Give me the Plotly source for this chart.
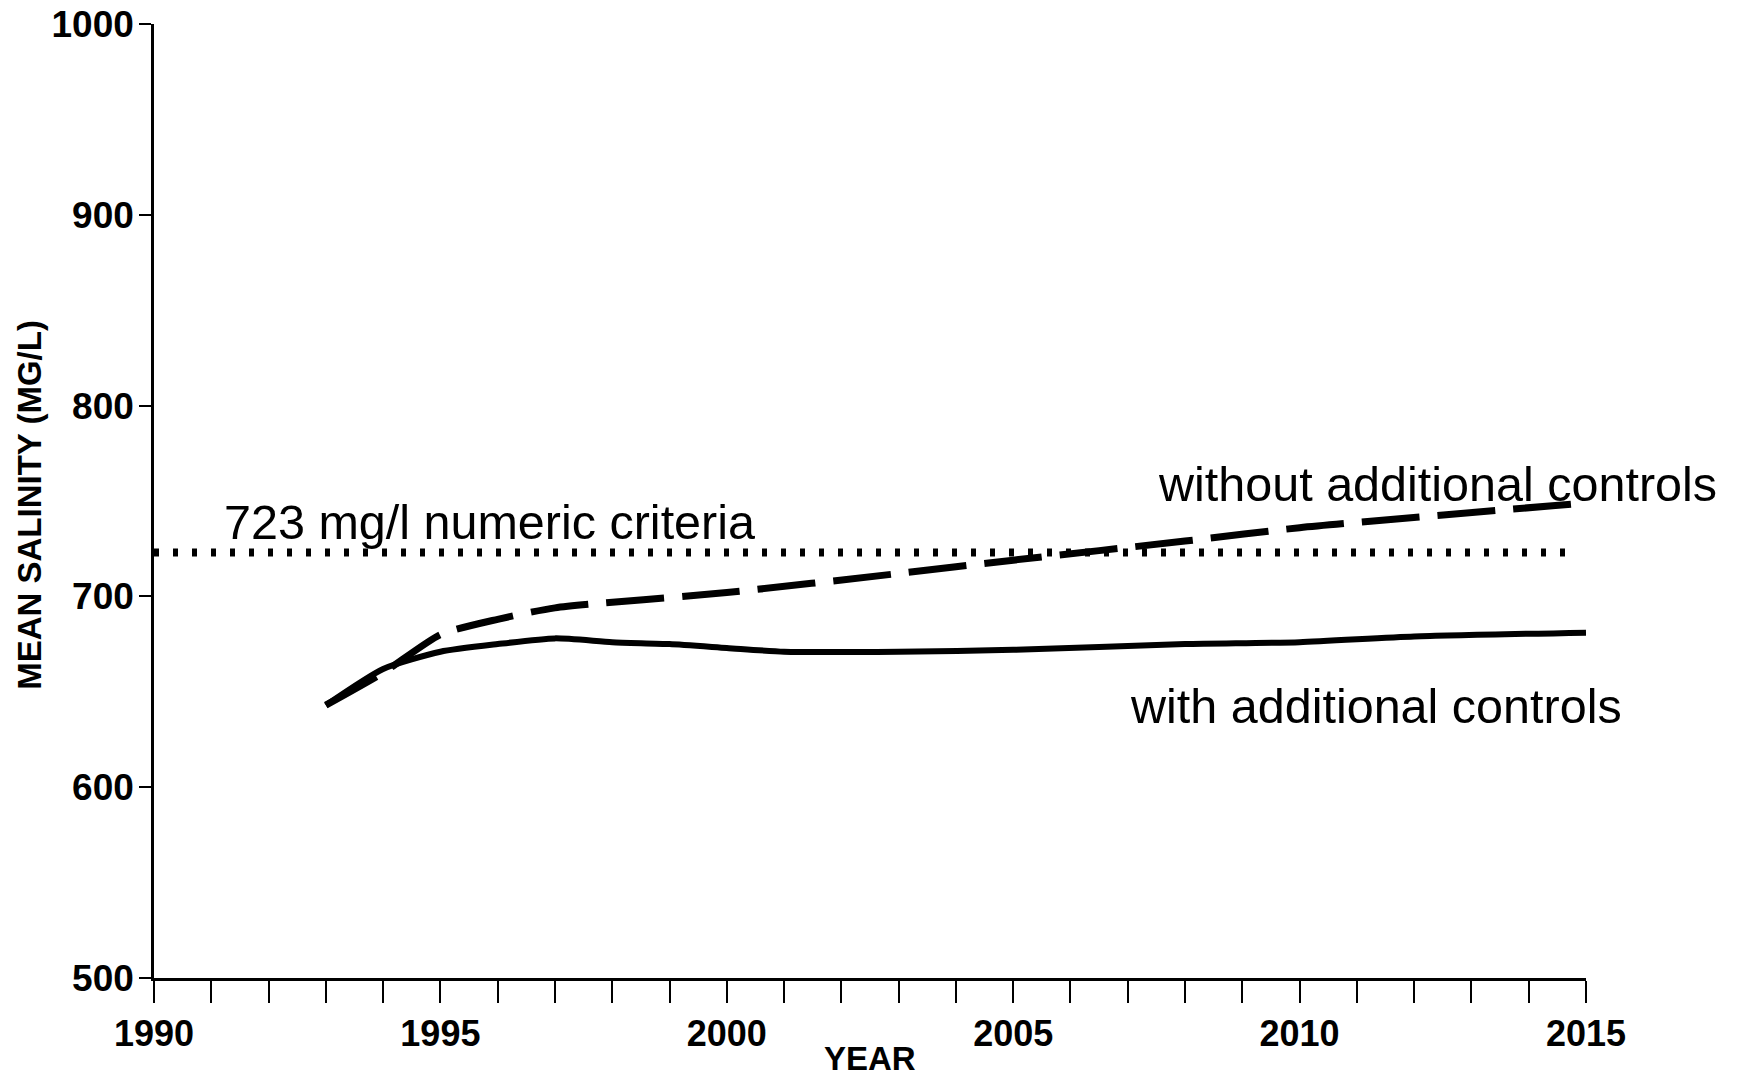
import plotly.graph_objects as go

# ---- data ----
years_with = [1993, 1994, 1995, 1996, 1997, 1998, 1999, 2000, 2001, 2003, 2005, 2008, 2010, 2012, 2015]
salinity_with = [643, 662, 671, 675, 678, 676, 675, 673, 671, 671, 672, 675, 676, 679, 681]

years_without = [1993, 1994, 1995, 1996, 1997, 2000, 2003, 2005, 2008, 2010, 2015]
salinity_without = [643, 660, 680, 688, 694, 702, 712, 719, 729, 736, 749]

criteria_years = [1990, 2014.8]
criteria_values = [723, 723]

label_criteria = "723 mg/l numeric criteria"
label_without = "without additional controls"
label_with = "with additional controls"

x_title = "YEAR"
y_title = "MEAN SALINITY (MG/L)"

BOLD = "Liberation Sans"

fig = go.Figure()

fig.add_trace(go.Scatter(
    x=criteria_years, y=criteria_values, mode="lines",
    line=dict(color="black", width=8, dash="5px,14px"),
    showlegend=False, hoverinfo="skip"))

fig.add_trace(go.Scatter(
    x=years_without, y=salinity_without, mode="lines",
    line=dict(color="black", width=7, dash="58px,18px", shape="spline", smoothing=0.6),
    showlegend=False))

fig.add_trace(go.Scatter(
    x=years_with, y=salinity_with, mode="lines",
    line=dict(color="black", width=6, shape="spline", smoothing=0.6),
    showlegend=False))

label_font = dict(family="Liberation Sans", size=48.5, color="black")
fig.add_annotation(x=1995.85, y=739, text=label_criteria, showarrow=False,
                   xanchor="center", yanchor="middle", font=label_font)
fig.add_annotation(x=2012.4, y=759, text=label_without, showarrow=False,
                   xanchor="center", yanchor="middle", font=label_font)
fig.add_annotation(x=2011.33, y=642.5, text=label_with, showarrow=False,
                   xanchor="center", yanchor="middle", font=label_font)

# axis titles as paper-anchored annotations
fig.add_annotation(xref="paper", yref="paper", x=0.5, y=0, yshift=-80,
                   text=x_title, showarrow=False, xanchor="center", yanchor="middle",
                   font=dict(family=BOLD, size=33, color="black", weight="bold"))
fig.add_annotation(xref="paper", yref="paper", x=0, y=0.496, xshift=-124,
                   text=y_title, showarrow=False, textangle=-90,
                   xanchor="center", yanchor="middle",
                   font=dict(family=BOLD, size=33, color="black", weight="bold"))

fig.update_xaxes(
    range=[1990, 2015], tickmode="linear", tick0=1990, dtick=5,
    showline=True, linecolor="black", linewidth=2.5,
    ticks="outside", ticklen=22, tickwidth=2, tickcolor="black",
    minor=dict(dtick=1, tick0=1990, ticks="outside", ticklen=22, tickwidth=2,
               tickcolor="black", showgrid=False),
    showgrid=False, zeroline=False, automargin=False, ticklabeloverflow="allow",
    tickfont=dict(family=BOLD, size=36, color="black", weight="bold"),
)
fig.update_yaxes(
    range=[500, 1000], tickmode="linear", tick0=500, dtick=100,
    showline=True, linecolor="black", linewidth=2.5,
    ticks="outside", ticklen=12, tickwidth=2, tickcolor="black",
    showgrid=False, zeroline=False, ticklabelstandoff=-2, automargin=False,
    ticklabeloverflow="allow",
    tickfont=dict(family=BOLD, size=37, color="black", weight="bold"),
)

# the page body has an 8px default margin, so the figure is sized to fit the window
fig.update_layout(
    width=1731, height=1074,
    margin=dict(l=146, r=153, t=16, b=104, autoexpand=False),
    paper_bgcolor="white", plot_bgcolor="white",
    showlegend=False,
)

fig.write_html("out.html")
